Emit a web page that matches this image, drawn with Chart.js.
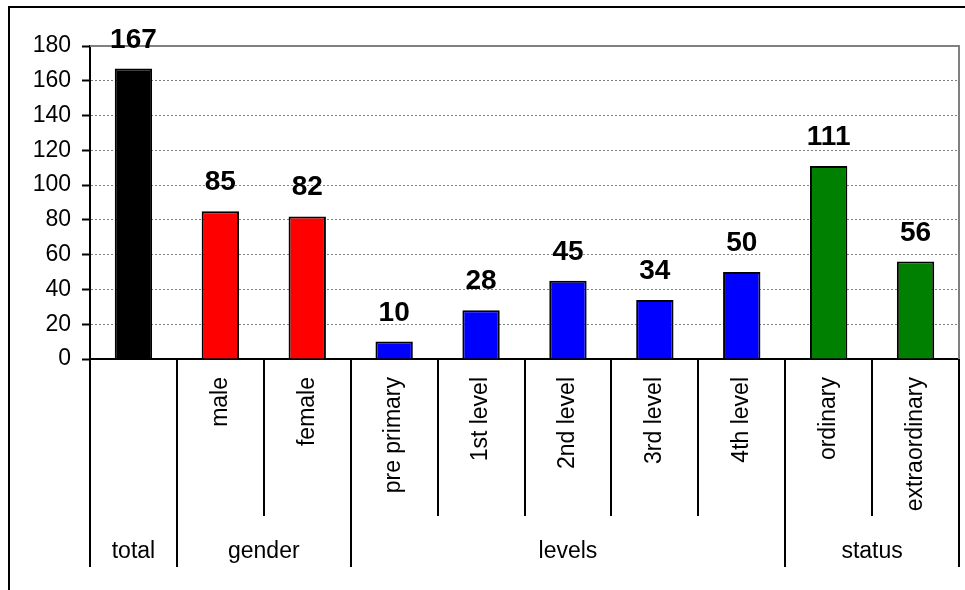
<!DOCTYPE html>
<html>
<head>
<meta charset="utf-8">
<script src="https://cdn.jsdelivr.net/npm/chart.js@4/dist/chart.umd.min.js"></script>
<style>
    body { margin: 0; background: #fff; }
    #wrap { width: 965px; height: 590px; }
</style>
</head>
<body>
<div id="wrap"><canvas id="pupilsChart" width="965" height="590"></canvas></div>
<script>
const CATEGORIES = ['', 'male', 'female', 'pre primary', '1st level', '2nd level', '3rd level', '4th level', 'ordinary', 'extraordinary'];
const VALUES = [167, 85, 82, 10, 28, 45, 34, 50, 111, 56];
const BAR_COLORS = ['#000000', '#ff0000', '#ff0000', '#0000ff', '#0000ff', '#0000ff', '#0000ff', '#0000ff', '#008000', '#008000'];
// group header under the axis: name + index of the first category in it
const GROUP_NAMES = ['total', 'gender', 'levels', 'status'];
const GROUP_STARTS = [0, 1, 3, 8];
const Y_MAX = 180;
const Y_STEP = 20;

const FONT = 'Arial, "Liberation Sans", sans-serif';

// frame round the whole chart
const framePlugin = {
    id: 'frame',
    beforeDraw(chart) {
        const ctx = chart.ctx;
        ctx.save();
        ctx.strokeStyle = '#000';
        ctx.lineWidth = 2;
        ctx.strokeRect(9, 7, 1000, 700);
        ctx.restore();
    }
};

// grey top/right edge of the plot area
const plotEdgePlugin = {
    id: 'plotEdge',
    beforeDatasetsDraw(chart) {
        const a = chart.chartArea;
        const ctx = chart.ctx;
        ctx.save();
        ctx.strokeStyle = '#808080';
        ctx.lineWidth = 2;
        ctx.beginPath();
        ctx.moveTo(a.left, a.top);
        ctx.lineTo(a.right, a.top);
        ctx.lineTo(a.right, a.bottom);
        ctx.stroke();
        ctx.restore();
    }
};

// numbers above the bars
const valueLabels = {
    id: 'valueLabels',
    afterDatasetsDraw(chart) {
        const ctx = chart.ctx;
        const meta = chart.getDatasetMeta(0);
        ctx.save();
        ctx.font = 'bold 28px ' + FONT;
        ctx.fillStyle = '#000';
        ctx.textAlign = 'center';
        ctx.textBaseline = 'alphabetic';
        meta.data.forEach((bar, i) => {
            ctx.fillText(String(VALUES[i]), bar.x, bar.y - 21);
        });
        ctx.restore();
    }
};

// two-level category axis: divider lines and group names
const groupAxis = {
    id: 'groupAxis',
    afterDraw(chart) {
        const x = chart.scales.x;
        const ctx = chart.ctx;
        const n = CATEGORIES.length;
        const step = (x.right - x.left) / n;
        const top = x.top;
        const shortEnd = top + 157;
        const longEnd = top + 208;

        ctx.save();
        ctx.strokeStyle = '#000';
        ctx.lineWidth = 2;
        for (let i = 0; i <= n; i++) {
            const px = Math.round(x.left + i * step);
            const isGroupEdge = GROUP_STARTS.includes(i) || i === n;
            ctx.beginPath();
            ctx.moveTo(px, top);
            ctx.lineTo(px, isGroupEdge ? longEnd : shortEnd);
            ctx.stroke();
        }

        ctx.font = '23px ' + FONT;
        ctx.fillStyle = '#000';
        ctx.textAlign = 'center';
        ctx.textBaseline = 'alphabetic';
        GROUP_NAMES.forEach((name, g) => {
            const from = GROUP_STARTS[g];
            const to = g + 1 < GROUP_STARTS.length ? GROUP_STARTS[g + 1] : n;
            const cx = x.left + (from + to) / 2 * step;
            ctx.fillText(name, cx, top + 199);
        });
        ctx.restore();
    }
};

const ctx = document.getElementById('pupilsChart');

new Chart(ctx, {
    type: 'bar',
    data: {
        labels: CATEGORIES,
        datasets: [{
            data: VALUES,
            backgroundColor: BAR_COLORS,
            borderColor: '#000',
            borderWidth: 2,
            categoryPercentage: 1,
            barPercentage: 0.43
        }]
    },
    options: {
        responsive: false,
        animation: false,
        devicePixelRatio: 1,
        layout: { padding: { left: 0, top: 46, right: 6, bottom: 0 } },
        plugins: {
            legend: { display: false },
            tooltip: { enabled: false }
        },
        scales: {
            x: {
                afterFit(scale) { scale.height = 231; },
                grid: { display: false, drawTicks: false },
                border: { display: true, color: '#000', width: 2 },
                ticks: {
                    minRotation: 90,
                    maxRotation: 90,
                    autoSkip: false,
                    padding: 18,
                    color: '#000',
                    font: { family: FONT, size: 23 }
                }
            },
            y: {
                min: 0,
                max: Y_MAX,
                afterFit(scale) { scale.width = 90; },
                grid: {
                    color: (c) => (c.tick && c.tick.value === 0) ? 'rgba(0,0,0,0)' : '#808080',
                    lineWidth: 1,
                    drawTicks: true,
                    tickLength: 8,
                    tickColor: '#000',
                    tickWidth: 2
                },
                border: {
                    display: true,
                    color: '#000',
                    width: 2,
                    dash: (c) => (c.tick && c.tick.value !== Y_MAX) ? [2, 2] : []
                },
                ticks: {
                    stepSize: Y_STEP,
                    padding: 11,
                    color: '#000',
                    font: { family: FONT, size: 23 }
                }
            }
        }
    },
    plugins: [framePlugin, plotEdgePlugin, valueLabels, groupAxis]
});
</script>
</body>
</html>
